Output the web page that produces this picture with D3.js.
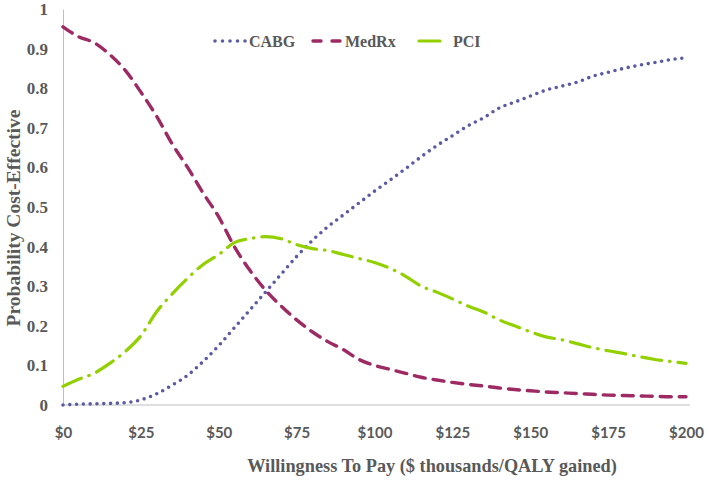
<!DOCTYPE html>
<html><head><meta charset="utf-8">
<script src="https://cdn.jsdelivr.net/npm/d3@7"></script>
<style>body{margin:0;background:#fff}svg{display:block}</style>
</head><body><svg id="c" width="709" height="483"></svg>
<script>
const wtp = d3.range(0, 201, 5);
const cabg = [0.0,0.002,0.003,0.004,0.006,0.013,0.028,0.05,0.075,0.11,0.15,0.195,0.24,0.285,0.33,0.375,0.415,0.45,0.48,0.51,0.54,0.568,0.597,0.627,0.655,0.68,0.705,0.725,0.75,0.765,0.78,0.795,0.805,0.815,0.83,0.84,0.85,0.858,0.865,0.872,0.877];
const medrx = [0.955,0.93,0.915,0.885,0.845,0.79,0.73,0.66,0.60,0.535,0.475,0.40,0.34,0.29,0.25,0.215,0.185,0.16,0.14,0.115,0.10,0.09,0.08,0.07,0.063,0.057,0.052,0.048,0.043,0.039,0.036,0.033,0.031,0.029,0.027,0.025,0.024,0.023,0.022,0.021,0.021];
const pci = [0.047,0.065,0.08,0.105,0.135,0.175,0.235,0.28,0.32,0.355,0.38,0.41,0.42,0.425,0.42,0.405,0.395,0.39,0.38,0.37,0.36,0.345,0.325,0.30,0.285,0.268,0.25,0.235,0.215,0.20,0.185,0.172,0.165,0.155,0.145,0.137,0.13,0.122,0.115,0.11,0.105];
const seriesNames = ["CABG","MedRx","PCI"];
const xTicks = [0,25,50,75,100,125,150,175,200];
const yTicks = [0,0.1,0.2,0.3,0.4,0.5,0.6,0.7,0.8,0.9,1];
const xTitle = "Willingness To Pay ($ thousands/QALY gained)";
const yTitle = "Probability Cost-Effective";

const svg = d3.select("#c");
const x = d3.scaleLinear().domain([0,200]).range([63,686]);
const y = d3.scaleLinear().domain([0,1]).range([405,9]);
const grey = "#595959";
const serif = "'Liberation Serif','DejaVu Serif',serif";

// axes
const xAxis = svg.append("g").attr("transform","translate(0,405)")
  .call(d3.axisBottom(x).tickValues(xTicks).tickSize(0).tickFormat(d=>"$"+d));
xAxis.select(".domain").attr("stroke","#bfbfbf").attr("d","M63,0H690");
xAxis.selectAll("text").attr("dy",0).attr("y",33).attr("fill",grey)
  .style("font-family","Lato,'Open Sans',sans-serif").style("font-weight","bold").style("font-size","15px");
const yAxis = svg.append("g").attr("transform","translate(63,0)")
  .call(d3.axisLeft(y).tickValues(yTicks).tickSize(0).tickFormat(d=>d===0||d===1?String(d):d3.format(".1f")(d)));
yAxis.select(".domain").attr("stroke","#bfbfbf");
yAxis.selectAll("text").attr("x",-15).attr("fill",grey)
  .style("font-family",serif).style("font-weight","bold").style("font-size","17px");

svg.append("text").attr("x",432).attr("y",472).attr("text-anchor","middle")
  .attr("fill",grey).style("font-family",serif).style("font-weight","bold").style("font-size","18.3px").text(xTitle);
svg.append("text").attr("transform","translate(20,218) rotate(-90)").attr("text-anchor","middle")
  .attr("fill",grey).style("font-family",serif).style("font-weight","bold").style("font-size","19.5px").text(yTitle);

const styles = {
  CABG:{color:"#5b5ba3",dash:"0 6.8",width:3.6,cap:"round"},
  MedRx:{color:"#9e2a64",dash:"11 8",width:3.4,cap:"round"},
  PCI:{color:"#92d000",dash:"20 8 0.5 8",width:3.2,cap:"round"}
};
const data = {CABG:cabg, MedRx:medrx, PCI:pci};
const line = d3.line().x((d,i)=>x(wtp[i])).y(d=>y(d)).curve(d3.curveMonotoneX);
seriesNames.forEach(n=>{
  svg.append("path").datum(data[n]).attr("d",line).attr("fill","none")
    .attr("stroke",styles[n].color).attr("stroke-width",styles[n].width)
    .attr("stroke-dasharray",styles[n].dash).attr("stroke-linecap",styles[n].cap);
});

// legend
const leg = [{n:"CABG",x0:215,x1:246,tx:249},{n:"MedRx",x0:313,x1:342,tx:345},{n:"PCI",x0:419,x1:440,tx:453}];
leg.forEach(l=>{
  const s = styles[l.n];
  svg.append("line").attr("x1",l.x0).attr("x2",l.x1).attr("y1",41).attr("y2",41)
    .attr("stroke",s.color).attr("stroke-width",s.width).attr("stroke-linecap",s.cap)
    .attr("stroke-dasharray", l.n==="PCI" ? null : (l.n==="CABG" ? "0 7.5" : "8 11"));
  svg.append("text").attr("x",l.tx).attr("y",47).attr("fill",grey)
    .style("font-family",serif).style("font-weight","bold").style("font-size","16px").text(l.n);
});
</script></body></html>
